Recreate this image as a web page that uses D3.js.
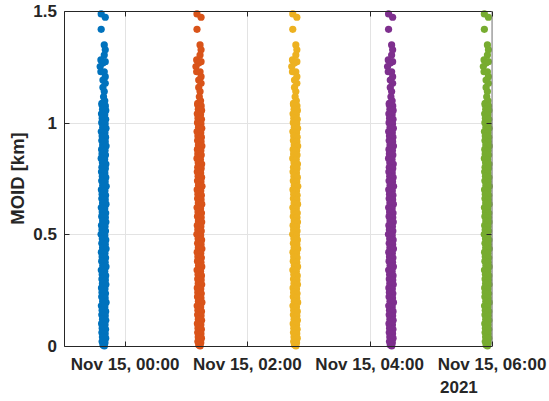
<!DOCTYPE html>
<html lang="en">
<head>
<meta charset="UTF-8">
<title>MOID per pass</title>
<script src="https://d3js.org/d3.v7.min.js"></script>
<style>
  html, body { margin: 0; padding: 0; background: #fff; }
  svg { display: block; }
  text { font-family: "Liberation Sans", Arial, Helvetica, sans-serif; font-weight: bold; fill: #262626; }
</style>
</head>
<body>
<svg id="chart" width="549" height="401"></svg>
<script>
// pass times (UTC) - one column of points per pass
const passTimes = ["2021-11-14T23:39", "2021-11-15T01:13", "2021-11-15T02:47", "2021-11-15T04:21", "2021-11-15T05:55"];
const passColors = ["#0072BD", "#D95319", "#EDB120", "#7E2F8E", "#77AC30"];

// samples: [minutes from pass time, MOID km]
const moidSamples = [
  [-2.5, 1.487], [1.5, 1.472], [-2.5, 1.418],
  [0.5, 1.348], [1.5, 1.326], [0.5, 1.303], [-2.8, 1.281], [1.5, 1.273], [-0.8, 1.267],
  [-3.5, 1.251], [0.5, 1.228], [-2.8, 1.228], [1.5, 1.206], [-0.8, 1.191], [1.5, 1.176],
  [-0.8, 1.158], [0.5, 1.139], [-0.2, 1.116], [-1.8, 1.087], [1.0, 1.098],
  [-1.8, 1.08], [1.6, 1.075], [-1.2, 1.06], [2.0, 1.055], [-2.2, 1.04], [1.0, 1.035],
  [-1.5, 1.02], [1.9, 1.015], [-2.0, 1.0], [1.4, 0.995], [-1.0, 0.98], [2.2, 0.975],
  [-2.4, 0.96], [1.2, 0.955], [-1.6, 0.94], [1.8, 0.935], [-1.9, 0.92], [1.5, 0.915],
  [-1.1, 0.9], [2.3, 0.895], [-2.1, 0.88], [1.3, 0.875], [-1.7, 0.86], [1.7, 0.855],
  [-2.5, 0.84], [0.9, 0.835], [-1.3, 0.82], [2.1, 0.815], [-1.8, 0.8], [1.6, 0.795],
  [-2.2, 0.78], [1.1, 0.775], [-1.4, 0.76], [2.0, 0.755], [-2.0, 0.74], [1.4, 0.735],
  [-1.0, 0.72], [2.4, 0.715], [-2.3, 0.7], [1.2, 0.695], [-1.6, 0.68], [1.8, 0.675],
  [-1.9, 0.66], [1.5, 0.655], [-1.2, 0.64], [2.2, 0.635], [-2.4, 0.62], [1.0, 0.615],
  [-1.5, 0.6], [1.9, 0.595], [-2.0, 0.58], [1.6, 0.575], [-1.1, 0.56], [2.1, 0.555],
  [-2.2, 0.54], [1.3, 0.535], [-1.7, 0.52], [1.7, 0.515], [-2.6, 0.5], [1.1, 0.495],
  [-1.4, 0.48], [2.0, 0.475], [-1.9, 0.46], [1.5, 0.455], [-1.2, 0.44], [2.3, 0.435],
  [-2.3, 0.42], [1.2, 0.415], [-1.6, 0.4], [1.8, 0.395], [-2.0, 0.38], [1.4, 0.375],
  [-1.0, 0.36], [2.2, 0.355], [-2.4, 0.34], [1.0, 0.335], [-1.5, 0.32], [1.9, 0.315],
  [-1.8, 0.3], [1.6, 0.295], [-1.3, 0.28], [2.1, 0.275], [-2.2, 0.26], [1.2, 0.255],
  [-1.7, 0.24], [1.7, 0.235], [-2.0, 0.22], [1.4, 0.215], [-1.1, 0.2], [2.3, 0.195],
  [-2.3, 0.18], [1.1, 0.175], [-1.6, 0.16], [1.9, 0.155], [-1.9, 0.14], [1.5, 0.135],
  [-1.2, 0.12], [2.0, 0.115], [-2.1, 0.1], [1.3, 0.095], [-1.5, 0.08], [1.8, 0.075],
  [-1.8, 0.06], [1.4, 0.055], [-1.3, 0.04], [1.9, 0.035], [-1.6, 0.02], [1.2, 0.015],
  [-0.8, 0.004], [0.6, 0.0]
];

const xDomain = ["2021-11-14T23:00", "2021-11-15T06:00"];
const yDomain = [0, 1.5];
const yTicks = [0, 0.5, 1, 1.5];

const svg = d3.select("#chart");
const width = +svg.attr("width");
const height = +svg.attr("height");
const margin = { top: 11, right: 57, bottom: 55, left: 64 };
const plotW = width - margin.left - margin.right;
const plotH = height - margin.top - margin.bottom;

const parse = s => new Date(s + ":00Z");

const x = d3.scaleUtc()
  .domain(xDomain.map(parse))
  .range([margin.left, margin.left + plotW]);
const y = d3.scaleLinear()
  .domain(yDomain)
  .range([margin.top + plotH, margin.top]);

const xTicks = x.ticks(d3.utcHour.every(2));
const fmt = d3.utcFormat("%b %d, %H:%M");

// grid
const grid = svg.append("g").attr("stroke", "#e3e3e3").attr("stroke-width", 1);
grid.selectAll("line.gx").data(xTicks).join("line")
  .attr("x1", d => Math.round(x(d)) + 0.5).attr("x2", d => Math.round(x(d)) + 0.5)
  .attr("y1", margin.top).attr("y2", margin.top + plotH);
grid.selectAll("line.gy").data(yTicks).join("line")
  .attr("y1", d => Math.round(y(d)) + 0.5).attr("y2", d => Math.round(y(d)) + 0.5)
  .attr("x1", margin.left).attr("x2", margin.left + plotW);

// points
const points = [];
passTimes.forEach((t, i) => {
  const t0 = parse(t);
  moidSamples.forEach(([dm, m]) => {
    points.push({ t: new Date(t0.getTime() + dm * 60000), m: m, c: passColors[i] });
  });
});

svg.append("g").selectAll("circle").data(points).join("circle")
  .attr("cx", d => x(d.t))
  .attr("cy", d => y(d.m))
  .attr("r", 3.6)
  .attr("fill", d => d.c);

// axes box
const axisColor = "#262626";
const boxL = margin.left + 0.5, boxR = margin.left + plotW - 0.5;
const boxT = margin.top + 0.5, boxB = margin.top + plotH + 0.5;
const box = svg.append("g").attr("stroke-width", 1);
box.append("line").attr("x1", boxL).attr("x2", boxL).attr("y1", boxT).attr("y2", boxB).attr("stroke", axisColor);
box.append("line").attr("x1", boxL).attr("x2", boxR + 0.5).attr("y1", boxB).attr("y2", boxB).attr("stroke", axisColor);
box.append("line").attr("x1", boxL).attr("x2", boxR).attr("y1", boxT).attr("y2", boxT).attr("stroke", axisColor);
box.append("line").attr("x1", boxR + 0.5).attr("x2", boxR + 0.5).attr("y1", boxT).attr("y2", boxB).attr("stroke", "#7d7d7d");

// ticks (inward)
const tl = 5;
xTicks.forEach(d => {
  const px = Math.round(x(d)) + 0.5;
  box.append("line").attr("x1", px).attr("x2", px).attr("y1", boxB).attr("y2", boxB - tl).attr("stroke", axisColor);
  box.append("line").attr("x1", px).attr("x2", px).attr("y1", boxT).attr("y2", boxT + tl).attr("stroke", axisColor);
});
yTicks.forEach(d => {
  const py = Math.round(y(d)) + 0.5;
  box.append("line").attr("x1", boxL).attr("x2", boxL + tl).attr("y1", py).attr("y2", py).attr("stroke", axisColor);
  box.append("line").attr("x1", boxR).attr("x2", boxR - tl).attr("y1", py).attr("y2", py).attr("stroke", axisColor);
});

// tick labels
svg.append("g").selectAll("text").data(xTicks).join("text")
  .attr("x", d => x(d))
  .attr("y", margin.top + plotH + 24)
  .attr("text-anchor", "middle")
  .style("font-size", "17px")
  .text(d => fmt(d));

svg.append("text")
  .attr("x", x(xTicks[xTicks.length - 1]) - 52)
  .attr("y", margin.top + plotH + 47)
  .style("font-size", "17px")
  .text(d3.utcFormat("%Y")(xTicks[xTicks.length - 1]));

svg.append("g").selectAll("text").data(yTicks).join("text")
  .attr("x", margin.left - 7)
  .attr("y", d => y(d))
  .attr("dy", "0.36em")
  .attr("text-anchor", "end")
  .style("font-size", "17px")
  .text(d => d3.format("~g")(d));

// y label
svg.append("text")
  .attr("transform", `translate(24, ${margin.top + plotH / 2}) rotate(-90)`)
  .attr("text-anchor", "middle")
  .style("font-size", "18.5px")
  .text("MOID [km]");
</script>
</body>
</html>
